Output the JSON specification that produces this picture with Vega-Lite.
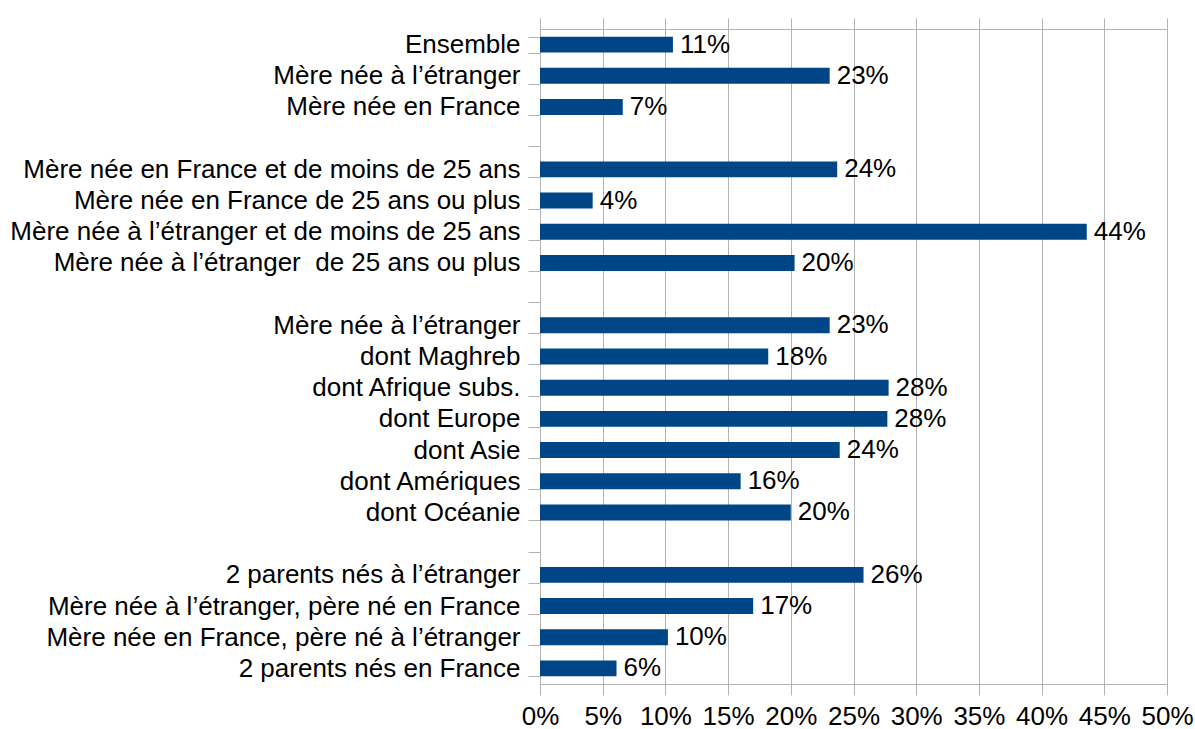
{
  "$schema": "https://vega.github.io/schema/vega-lite/v6.json",
  "autosize": "none",
  "width": 627,
  "height": 655,
  "padding": {"left": 540, "top": 29, "right": 28, "bottom": 45},
  "background": "white",
  "config": {
    "view": {"stroke": null},
    "font": "Liberation Sans",
    "axis": {"labelFont": "Liberation Sans", "labelColor": "black"}
  },
  "data": {
    "values": [
      {"cat": "Ensemble", "value": 0.106},
      {"cat": "Mère née à l’étranger", "value": 0.231},
      {"cat": "Mère née en France", "value": 0.066},
      {"cat": "Mère née en France et de moins de 25 ans", "value": 0.237},
      {"cat": "Mère née en France de 25 ans ou plus", "value": 0.042},
      {"cat": "Mère née à l’étranger et de moins de 25 ans", "value": 0.436},
      {"cat": "Mère née à l’étranger\u00a0 de 25 ans ou plus", "value": 0.203},
      {"cat": "Mère née à l’étranger\u200b", "value": 0.231},
      {"cat": "dont Maghreb", "value": 0.182},
      {"cat": "dont Afrique subs.", "value": 0.278},
      {"cat": "dont Europe", "value": 0.277},
      {"cat": "dont Asie", "value": 0.239},
      {"cat": "dont Amériques", "value": 0.160},
      {"cat": "dont Océanie", "value": 0.200},
      {"cat": "2 parents nés à l’étranger", "value": 0.258},
      {"cat": "Mère née à l’étranger, père né en France", "value": 0.170},
      {"cat": "Mère née en France, père né à l’étranger", "value": 0.102},
      {"cat": "2 parents nés en France", "value": 0.061}
    ]
  },
  "resolve": {"axis": {"x": "independent"}},
  "encoding": {
    "y": {
      "field": "cat",
      "type": "nominal",
      "scale": {
        "domain": [
          "Ensemble", "Mère née à l’étranger", "Mère née en France", "\u200b",
          "Mère née en France et de moins de 25 ans", "Mère née en France de 25 ans ou plus",
          "Mère née à l’étranger et de moins de 25 ans", "Mère née à l’étranger\u00a0 de 25 ans ou plus", "\u200b\u200b",
          "Mère née à l’étranger\u200b", "dont Maghreb", "dont Afrique subs.", "dont Europe", "dont Asie",
          "dont Amériques", "dont Océanie", "\u200b\u200b\u200b",
          "2 parents nés à l’étranger", "Mère née à l’étranger, père né en France",
          "Mère née en France, père né à l’étranger", "2 parents nés en France"
        ],
        "paddingInner": 0.49,
        "paddingOuter": 0.245
      },
      "axis": {
        "title": null,
        "domain": false,
        "tickBand": "extent",
        "tickSize": 12,
        "tickColor": "#b3b3b3",
        "tickWidth": 1,
        "labelFontSize": 26,
        "labelPadding": 8,
        "labelLimit": 600
      }
    }
  },
  "layer": [
    {
      "mark": {"type": "bar", "color": "#004586"},
      "encoding": {
        "x": {
          "field": "value",
          "type": "quantitative",
          "scale": {"domain": [0, 0.5], "nice": false, "zero": true},
          "axis": {
            "title": null,
            "format": ".0%",
            "values": [0, 0.05, 0.1, 0.15, 0.2, 0.25, 0.3, 0.35, 0.4, 0.45, 0.5],
            "grid": true,
            "gridColor": "#b3b3b3",
            "gridOpacity": 1,
            "domainColor": "#b3b3b3",
            "tickColor": "#b3b3b3",
            "tickSize": 11,
            "labelFontSize": 26,
            "labelPadding": 8,
            "labelFlush": false
          }
        }
      }
    },
    {
      "mark": {"type": "bar", "opacity": 0},
      "encoding": {
        "x": {
          "field": "value",
          "type": "quantitative",
          "scale": {"domain": [0, 0.5], "nice": false, "zero": true},
          "axis": {
            "orient": "top",
            "title": null,
            "labels": false,
            "values": [0, 0.05, 0.1, 0.15, 0.2, 0.25, 0.3, 0.35, 0.4, 0.45, 0.5],
            "grid": false,
            "domainColor": "#b3b3b3",
            "tickColor": "#b3b3b3",
            "tickSize": 11
          }
        }
      }
    },
    {
      "mark": {"type": "text", "align": "left", "baseline": "middle", "dx": 7, "fontSize": 26, "color": "black", "font": "Liberation Sans"},
      "encoding": {
        "x": {"field": "value", "type": "quantitative", "scale": {"domain": [0, 0.5], "nice": false, "zero": true}, "axis": null},
        "text": {"field": "value", "type": "quantitative", "format": ".0%"}
      }
    }
  ]
}
